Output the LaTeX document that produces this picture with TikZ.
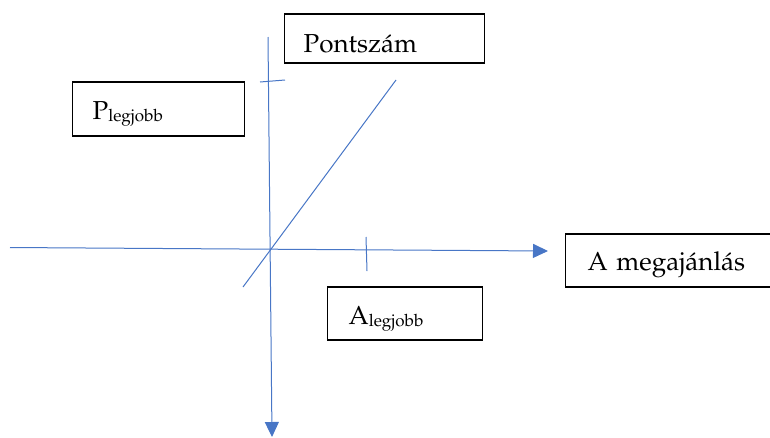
\documentclass[tikz,border=0pt]{standalone}
\usepackage[T1]{fontenc}
\renewcommand{\rmdefault}{ppl}
\usepackage{tikz}
\usetikzlibrary{arrows.meta,shapes}
\definecolor{axisblue}{RGB}{72,118,198}
\newcommand{\sublbl}[2]{#1\raisebox{-2pt}{\fontsize{17}{17}\selectfont #2}}

\begin{document}
\begin{tikzpicture}[x=1pt,y=-1pt]
			\tikzset{labelbox/.style={draw=black,line width=1.2pt,anchor=west,align=left,inner ysep=0pt,text depth=0pt,text height=20pt,font=\fontsize{26}{30}\selectfont}}
			\tikzset{axis/.style={draw=axisblue,line width=1pt}}
			\tikzset{axisarrow/.style={axis,-{Triangle[length=15pt,width=14pt]}}}
			\useasboundingbox (0,0) rectangle (770,437);
			% boxes
			\node[labelbox,inner xsep=19pt,text width=162pt,minimum height=49pt,text height=27pt] (score) at (284,38.5) {Pontszám};
			\node[labelbox,inner xsep=20pt,text width=132pt,minimum height=54pt] (bestscore) at (72,109) {\sublbl{P}{legjobb}};
			\node[labelbox,inner xsep=22pt,text width=180pt,minimum height=53pt,text height=19pt] (offer) at (565,260.5) {A megajánlás};
			\node[labelbox,inner xsep=21pt,text width=113pt,minimum height=53pt,text height=21pt] (bestoffer) at (327,313.5) {\sublbl{A}{legjobb}};
			% axes
			\coordinate (xstart) at (10,247.5);
			\coordinate (xend) at (548,251);
			\coordinate (ystart) at (268,37);
			\coordinate (yend) at (272,437);
			\coordinate (diagstart) at (243,287);
			\coordinate (diagend) at (396,80);
			\coordinate (ytickl) at (260,82);
			\coordinate (ytickr) at (285,80);
			\coordinate (xticktop) at (366,237);
			\coordinate (xtickbot) at (367,271);
			\draw[axisarrow] (xstart) -- (xend);
			\draw[axisarrow] (ystart) -- (yend);
			\draw[axis] (diagstart) -- (diagend);
			\draw[axis] (ytickl) -- (ytickr);
			\draw[axis] (xticktop) -- (xtickbot);
		\end{tikzpicture}
\end{document}
